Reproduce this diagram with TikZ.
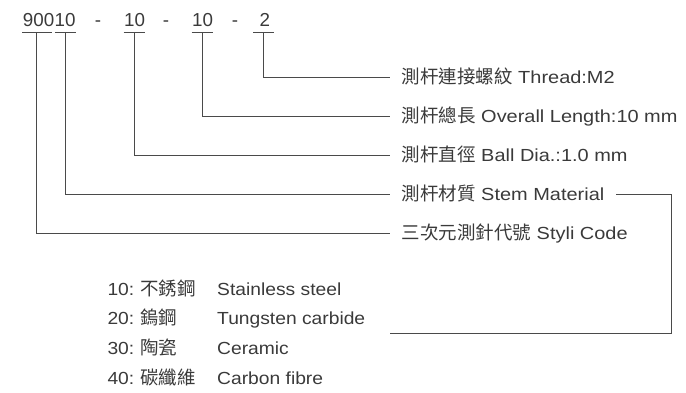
\documentclass[tikz,border=0pt]{standalone}
\usepackage{fontspec}
\usetikzlibrary{calc}
\setmainfont{Liberation Sans}
\newfontfamily\labfont[FakeStretch=1.14]{Liberation Sans}
\newfontfamily\listfont[FakeStretch=1.10]{Liberation Sans}
\newfontfamily\codefont{Liberation Sans}
\newfontfamily\cjk{Noto Sans CJK TC}
\newcommand\zh[1]{{\cjk\fontsize{18.5}{20}\selectfont #1}}
\definecolor{txt}{HTML}{3A3A3A}
\definecolor{ln}{HTML}{4A4A4A}
\tikzset{
  conn/.style={draw=ln, line width=0.9pt},
  code/.style={anchor=base west, inner sep=0pt, text=txt, font=\codefont\fontsize{18.8}{20}\selectfont},
  dashsym/.style={anchor=base, inner sep=0pt, text=txt, font=\codefont\fontsize{18.8}{20}\selectfont},
  lab/.style={anchor=west, inner xsep=11.5pt, inner ysep=0pt, text height=12.5pt, text depth=0pt, text=txt, font=\labfont\fontsize{17.5}{20}\selectfont},
  item/.style={anchor=base west, inner sep=0pt, text=txt, font=\listfont\fontsize{17.5}{20}\selectfont}
}
\begin{document}
\begin{tikzpicture}[x=1pt, y=-1pt]
\useasboundingbox (0,0) rectangle (686,393);
% code
\node[code] (c1) at (22.7,27) {900};
\node[code] (c2) at (c1.base east) {10};
\node[dashsym] (d1) at (98,27) {-};
\node[code] (c3) at (124,27) {10};
\node[dashsym] (d2) at (166,27) {-};
\node[code] (c4) at (192,27) {10};
\node[dashsym] (d3) at (235,27) {-};
\node[code] (c5) at (259.5,27) {2};
% underlines
\coordinate (a1) at ([yshift=-5.5pt,xshift=-0.7pt]c1.base west);
\coordinate (b1) at ([yshift=-5.5pt,xshift=-2.6pt]c1.base east);
\coordinate (a2) at ([yshift=-5.5pt,xshift=0.4pt]c2.base west);
\coordinate (b2) at ([yshift=-5.5pt]c2.base east);
\coordinate (a3) at ([yshift=-5.5pt,xshift=-0.5pt]c3.base west);
\coordinate (b3) at ([yshift=-5.5pt]c3.base east);
\coordinate (a4) at ([yshift=-5.5pt,xshift=-0.5pt]c4.base west);
\coordinate (b4) at ([yshift=-5.5pt]c4.base east);
\coordinate (a5) at ([yshift=-5.5pt,xshift=-6.5pt]c5.base west);
\coordinate (b5) at ([yshift=-5.5pt,xshift=3.5pt]c5.base east);
\foreach \i in {1,...,5} {\draw[conn] (a\i) -- (b\i);}
% labels
\node[lab] (l1) at (390,77) {\zh{測杆連接螺紋} Thread:M2};
\node[lab] (l2) at (390,116) {\zh{測杆總長} Overall Length:10 mm};
\node[lab] (l3) at (390,155) {\zh{測杆直徑} Ball Dia.:1.0 mm};
\node[lab] (l4) at (390,194) {\zh{測杆材質} Stem Material};
\node[lab] (l5) at (390,233) {\zh{三次元測針代號} Styli Code};
% connectors
\draw[conn] ($(a5)!0.5!(b5)$) |- (l1.west);
\draw[conn] ($(a4)!0.5!(b4)$) |- (l2.west);
\draw[conn] ($(a3)!0.5!(b3)$) |- (l3.west);
\draw[conn] ($(a2)!0.5!(b2)$) |- (l4.west);
\draw[conn] ($(a1)!0.5!(b1)$) |- (l5.west);
% material list
\foreach \n/\z/\e/\y in {10/不銹鋼/Stainless steel/295, 20/鎢鋼/Tungsten carbide/324.8, 30/陶瓷/Ceramic/354.6, 40/碳纖維/Carbon fibre/384.4} {
  \node[item] (n\n) at (107.3,\y) {\n:};
  \node[item] (z\n) at (140,\y) {\zh{\z}};
  \node[item] (e\n) at (217,\y) {\e};
}
\coordinate (mend) at (390,333);
\draw[conn] (l4.east) -- (671,194) |- (mend);
\end{tikzpicture}
\end{document}
